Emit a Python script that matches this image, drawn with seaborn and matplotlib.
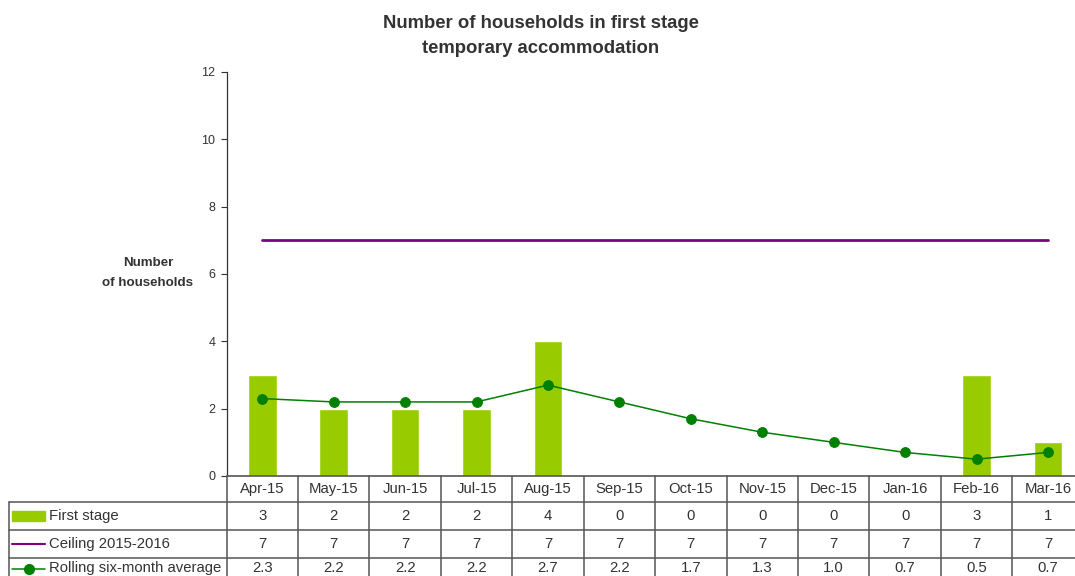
import numpy as np
import pandas as pd
import matplotlib.pyplot as plt
from matplotlib.lines import Line2D
from matplotlib.patches import Rectangle
import seaborn as sns

# ── Data ────────────────────────────────────────────────────────────────
months = ['Apr-15', 'May-15', 'Jun-15', 'Jul-15', 'Aug-15', 'Sep-15',
          'Oct-15', 'Nov-15', 'Dec-15', 'Jan-16', 'Feb-16', 'Mar-16']
first_stage = [3, 2, 2, 2, 4, 0, 0, 0, 0, 0, 3, 1]
ceiling = [7, 7, 7, 7, 7, 7, 7, 7, 7, 7, 7, 7]
rolling_avg = [2.3, 2.2, 2.2, 2.2, 2.7, 2.2, 1.7, 1.3, 1.0, 0.7, 0.5, 0.7]
row_labels = ['First stage', 'Ceiling 2015-2016', 'Rolling six-month average']

BAR = '#99CC00'
PURPLE = '#800080'
GREEN = '#008000'
GRID = '#555555'
TXT = '#333333'

sns.set_theme(style='white')
plt.rcParams['font.family'] = ['Liberation Sans', 'DejaVu Sans']

W, H = 1075, 576
fig = plt.figure(figsize=(W / 100, H / 100), dpi=100)

def fx(px):
    return px / W

def fy(py):
    return 1 - py / H

ax_left, ax_right, ax_top, ax_bot = 226.5, 1083.7, 72, 476
ax = fig.add_axes([fx(ax_left), fy(ax_bot), fx(ax_right - ax_left), (ax_bot - ax_top) / H])

df = pd.DataFrame({'Month': months, 'First stage': first_stage,
                   'Ceiling': ceiling, 'Rolling': rolling_avg})

sns.barplot(data=df, x='Month', y='First stage', color=BAR, width=0.4,
            saturation=1, ax=ax)
x = np.arange(len(months))
ax.plot(x, df['Ceiling'], color=PURPLE, linewidth=2)
sns.lineplot(x=x, y=df['Rolling'], color=GREEN, linewidth=1.1, marker='o',
             markersize=7, markeredgecolor=GREEN, ax=ax)

ax.set_xlim(-0.5, len(months) - 0.5)
ax.set_ylim(0, 12)
ax.set_yticks(range(0, 13, 2))
ax.tick_params(axis='y', labelsize=9, colors=TXT, length=4, width=0.8,
               direction='out', left=True, pad=4)
ax.set_xticks([])
ax.set_xlabel('')
ax.set_ylabel('')
for s in ['top', 'right']:
    ax.spines[s].set_visible(False)
ax.spines['left'].set_color(TXT)
ax.spines['left'].set_linewidth(0.9)
ax.spines['bottom'].set_color(GRID)
ax.spines['bottom'].set_linewidth(1.2)

fig.text(fx(541), fy(36), 'Number of households in first stage\ntemporary accommodation',
         ha='center', va='center', fontsize=13.3, fontweight='bold', color=TXT,
         linespacing=1.6)
fig.text(fx(148), fy(273), 'Number\nof households', ha='center', va='center',
         fontsize=9.6, fontweight='bold', color=TXT, linespacing=1.9)

# ── Data table under the axis ────────────────────────────────────────────
row_y = [476, 502, 530, 558, 586]
col_w = (ax_right - ax_left) / len(months)
edges = [ax_left + i * col_w for i in range(len(months) + 1)]

def hline(y, x0, x1):
    fig.add_artist(Line2D([fx(x0), fx(x1)], [fy(y), fy(y)], color=GRID, lw=1.1))

def vline(x, y0, y1):
    fig.add_artist(Line2D([fx(x), fx(x)], [fy(y0), fy(y1)], color=GRID, lw=1.1))

for y in row_y[1:4]:
    hline(y, 9, W)
vline(9, 502, H + 5)
for e in edges:
    vline(e, 476, H + 5)

row_cy = [516, 544, 568]
cell_fmt = [lambda v: f'{v:d}', lambda v: f'{v:d}', lambda v: f'{v:.1f}']
rows = [first_stage, ceiling, rolling_avg]
FS = 10.7
for i, m in enumerate(months):
    cx = (edges[i] + edges[i + 1]) / 2
    fig.text(fx(cx), fy(489), m, ha='center', va='center', fontsize=FS, color=TXT)
    for r, vals in enumerate(rows):
        fig.text(fx(cx), fy(row_cy[r]), cell_fmt[r](vals[i]), ha='center', va='center',
                 fontsize=FS, color=TXT)

for r, lab in enumerate(row_labels):
    fig.text(fx(49), fy(row_cy[r]), lab, ha='left', va='center', fontsize=FS, color=TXT)

fig.add_artist(Rectangle((fx(12), fy(521)), fx(33), 10 / H, color=BAR,
                         transform=fig.transFigure))
fig.add_artist(Line2D([fx(12), fx(45)], [fy(544), fy(544)], color=PURPLE, lw=1.5))
fig.add_artist(Line2D([fx(12), fx(45)], [fy(569), fy(569)], color=GREEN, lw=1.1))
fig.add_artist(Line2D([fx(28.5)], [fy(569)], color=GREEN, marker='o', markersize=7,
                      markeredgecolor=GREEN, linestyle='none'))

plt.savefig('out.png', dpi=100)
plt.close()
